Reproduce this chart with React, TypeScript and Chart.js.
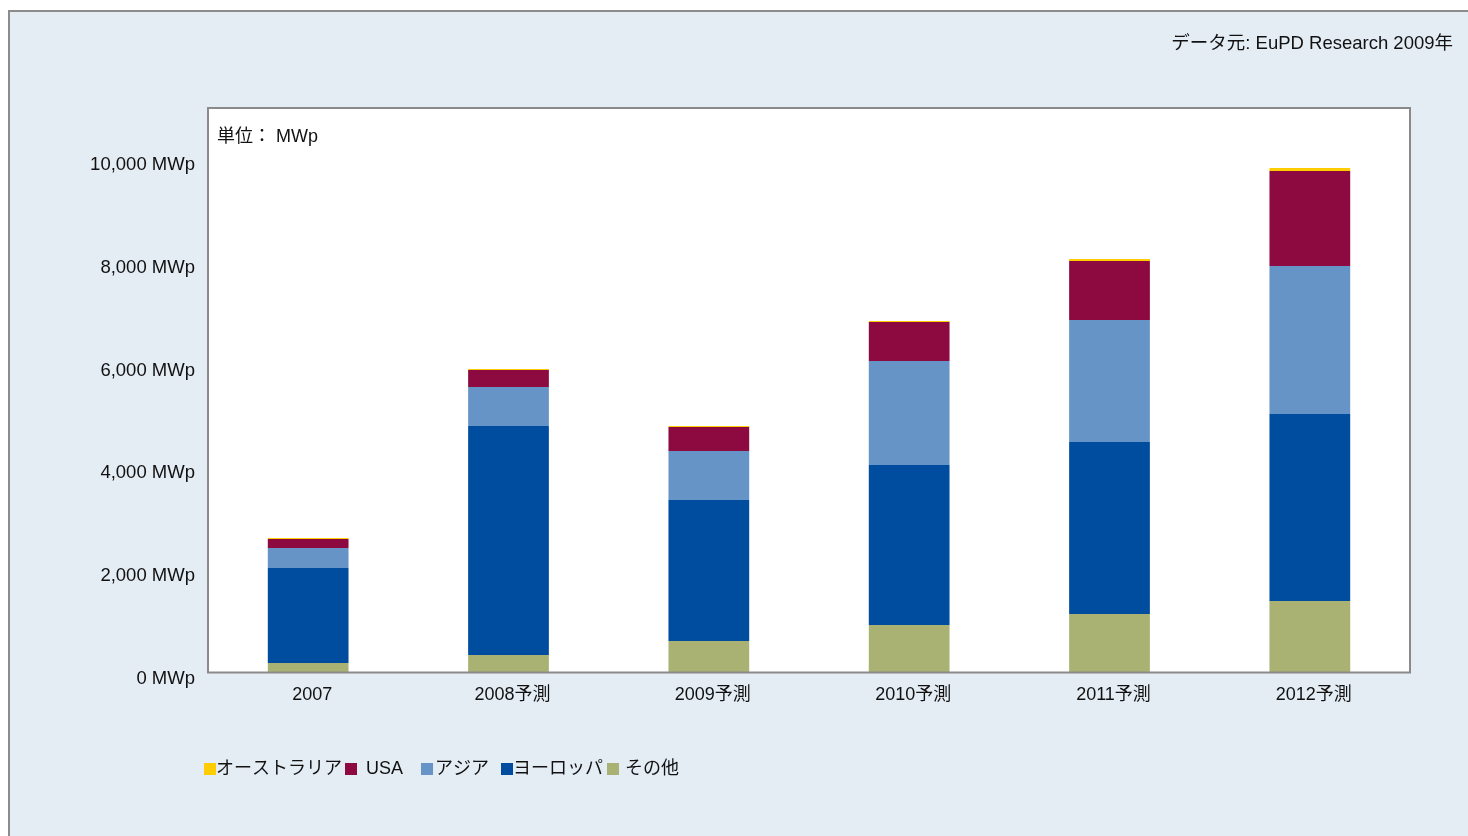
import React, { useEffect, useRef } from 'react';
import { Chart, registerables } from 'chart.js';

Chart.register(...registerables);

// ---- data ----
const categories = ['2007', '2008予測', '2009予測', '2010予測', '2011予測', '2012予測'];
const seriesNames = ['オーストラリア', 'USA', 'アジア', 'ヨーロッパ', 'その他'];
const australia = [20, 20, 20, 20, 39, 58];
const usa = [175, 331, 468, 760, 1149, 1851];
const asia = [390, 760, 955, 2027, 2378, 2884];
const europe = [1851, 4462, 2747, 3117, 3351, 3644];
const other = [185, 341, 614, 926, 1140, 1393];
const yTicks = [0, 2000, 4000, 6000, 8000, 10000];
const yMax = 11000;
const unitLabel = '単位： MWp';
const sourceLabel = 'データ元: EuPD Research 2009年';

const COLORS = {
  aus: '#FFCC00',
  usa: '#8C0A40',
  asia: '#6794C6',
  europe: '#004C9F',
  other: '#A9B173',
};

const FONT = '"Liberation Sans", Arial, "Noto Sans CJK JP", sans-serif';
const TEXT = '#111111';

export default function App() {
  const ref = useRef<HTMLCanvasElement | null>(null);

  useEffect(() => {
    const canvas = ref.current;
    if (!canvas) return;
    Chart.defaults.font.family = FONT;

    const decor = {
      id: 'decor',
      beforeDraw(chart: any) {
        const { ctx, chartArea } = chart;
        ctx.save();
        // panel background
        ctx.fillStyle = '#E4ECF4';
        ctx.fillRect(8, 10, 1460, 826);
        ctx.strokeStyle = '#8c8c8c';
        ctx.lineWidth = 2;
        ctx.beginPath();
        ctx.moveTo(9, 836);
        ctx.lineTo(9, 11);
        ctx.lineTo(1468, 11);
        ctx.stroke();
        // plot area
        ctx.fillStyle = '#FFFFFF';
        ctx.fillRect(chartArea.left, chartArea.top, chartArea.right - chartArea.left, chartArea.bottom - chartArea.top);
        // texts
        ctx.fillStyle = TEXT;
        ctx.font = '18.5px ' + FONT;
        ctx.textBaseline = 'middle';
        ctx.textAlign = 'right';
        ctx.fillText(sourceLabel, 1453, 44);
        ctx.font = '18px ' + FONT;
        ctx.textAlign = 'left';
        ctx.fillText(unitLabel, chartArea.left + 9, 137);

        // legend
        const ds = chart.data.datasets;
        const order = [4, 3, 2, 1, 0];
        const gapBoxText = [0, 9, 2, 0, 6];
        const gapAfterText = [3, 18, 12, 4, 0];
        let x = 204;
        const y = 769;
        order.forEach((di: number, i: number) => {
          const d = ds[di];
          ctx.fillStyle = d.backgroundColor;
          ctx.fillRect(x, y - 6, 12, 12);
          x += 12 + gapBoxText[i];
          ctx.fillStyle = TEXT;
          ctx.fillText(d.label, x, y);
          x += ctx.measureText(d.label).width + gapAfterText[i];
        });
        ctx.restore();
      },
      afterDatasetsDraw(chart: any) {
        const { ctx, chartArea } = chart;
        ctx.save();
        ctx.strokeStyle = '#8a8a8a';
        ctx.lineWidth = 2;
        ctx.strokeRect(chartArea.left, chartArea.top, chartArea.right - chartArea.left, chartArea.bottom - chartArea.top);
        ctx.restore();
      },
    };

    const chart = new Chart(canvas, {
      type: 'bar',
      data: {
        labels: categories,
        datasets: [
          { label: seriesNames[4], data: other, backgroundColor: COLORS.other },
          { label: seriesNames[3], data: europe, backgroundColor: COLORS.europe },
          { label: seriesNames[2], data: asia, backgroundColor: COLORS.asia },
          { label: seriesNames[1], data: usa, backgroundColor: COLORS.usa },
          { label: seriesNames[0], data: australia, backgroundColor: COLORS.aus },
        ],
      },
      options: {
        animation: false,
        responsive: false,
        devicePixelRatio: 1,
        layout: { padding: { left: 88, right: 58, top: 108, bottom: 123.5 } },
        datasets: { bar: { barPercentage: 0.403, categoryPercentage: 1, borderWidth: 0 } },
        plugins: { legend: { display: false }, tooltip: { enabled: false } },
        scales: {
          x: {
            stacked: true,
            grid: { display: false, drawTicks: false },
            border: { display: false },
            ticks: {
              font: { size: 18 },
              color: TEXT,
              padding: 12,
              labelOffset: 4,
              maxRotation: 0,
              autoSkip: false,
            },
            afterFit: (s: any) => { s.height = 40; },
          },
          y: {
            stacked: true,
            min: 0,
            max: yMax,
            grid: { display: false, drawTicks: false },
            border: { display: false },
            afterBuildTicks: (s: any) => { s.ticks = yTicks.map((v) => ({ value: v })); },
            ticks: {
              font: { size: 18.5 },
              color: TEXT,
              padding: 13,
              labelOffset: 6,
              callback: (v: any) => Number(v).toLocaleString('en-US') + ' MWp',
            },
            afterFit: (s: any) => { s.width = 120; },
          },
        },
      },
      plugins: [decor],
    } as any);

    return () => chart.destroy();
  }, []);

  return (
    <canvas
      ref={ref}
      width={1468}
      height={836}
      style={{ position: 'fixed', left: 0, top: 0, width: 1468, height: 836, display: 'block' }}
    />
  );
}
